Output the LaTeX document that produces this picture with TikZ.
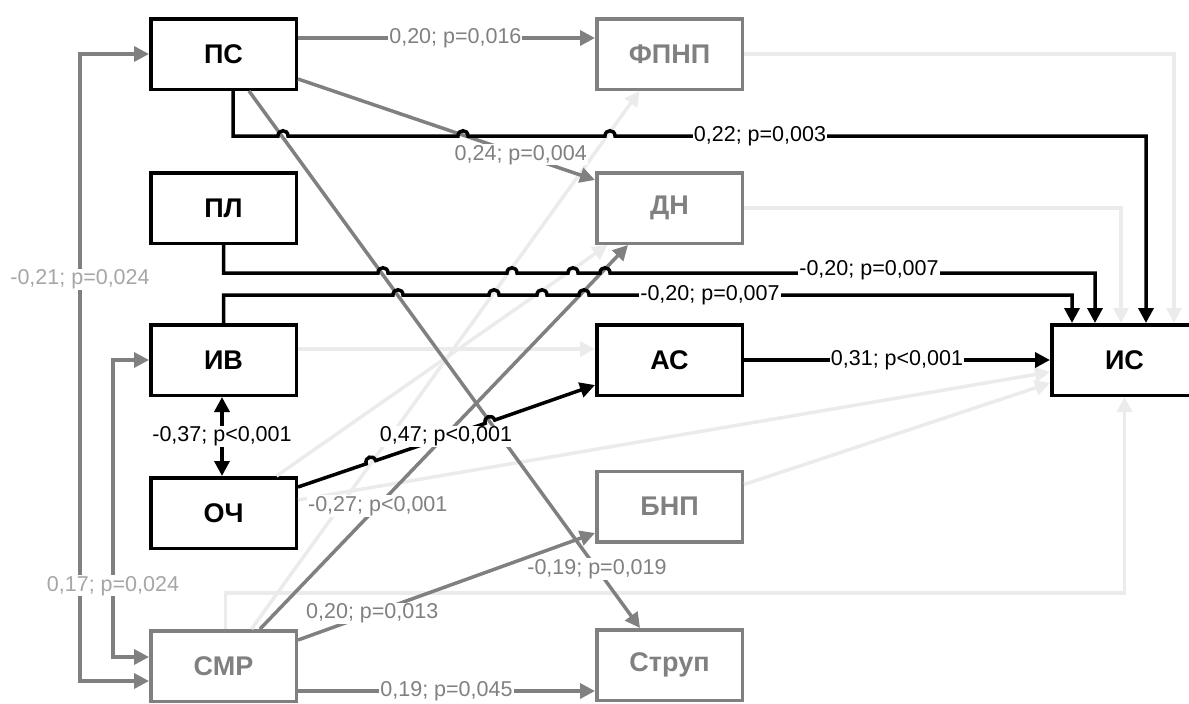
\documentclass[tikz,border=0pt]{standalone}
\usepackage{fontspec}
\setmainfont{Liberation Sans}
\usetikzlibrary{arrows.meta}
\definecolor{midgray}{HTML}{808080}
\definecolor{lightline}{HTML}{EBEBEB}
\definecolor{lighttext}{HTML}{A6A6A6}
\newcommand{\jump}[2]{-- ({#1-5},#2) .. controls +(0,-7) and +(0,-7) .. ({#1+5},#2)}

\begin{document}
\begin{tikzpicture}[x=1pt,y=-1pt,
		>={Triangle[length=15pt,width=15pt]},
		box/.style={draw,line width=3.5pt,minimum width=145.5pt,minimum height=70.5pt,inner sep=0pt,font=\bfseries\fontsize{27}{27}\selectfont},
		gbox/.style={box,draw=midgray,text=midgray},
		lbl/.style={fill=white,inner sep=1pt,font=\fontsize{21.5}{21.5}\selectfont},
		blk/.style={line width=3.5pt,->},
		gry/.style={blk,draw=midgray},
		lgt/.style={blk,draw=lightline}]
		\useasboundingbox (0,0) rectangle (1189,704);
		\clip (0,0) rectangle (1189,704);
		% boxes
		\node[box] (ps) at (223.5,54) {ПС};
		\node[box] (pl) at (223.5,208) {ПЛ};
		\node[box] (iv) at (223.5,360) {ИВ};
		\node[box] (och) at (223.5,513) {ОЧ};
		\node[gbox] (smr) at (223.5,666) {СМР};
		\node[gbox] (fpnp) at (669.5,54) {ФПНП};
		\node[gbox] (dn) at (669.5,208) {ДН};
		\node[box] (as) at (669.5,360) {АС};
		\node[gbox] (bnp) at (669.5,506.5) {БНП};
		\node[gbox] (strup) at (669.5,665) {Струп};
		\node[box] (is) at (1124.5,360) {ИС};
		% weak paths
		\draw[lgt] (fpnp.east) -| ([xshift=49.5pt]is.north);
		\draw[lgt] (dn.east) -| ([xshift=-3.5pt]is.north);
		\draw[lgt] ([yshift=11pt]iv.east) -- ([yshift=11pt]as.west);
		\draw[lgt] ([yshift=22pt]bnp.east) -- ([yshift=-23pt]is.west);
		\draw[lgt] ([yshift=13pt]och.east) -- ([yshift=-12pt]is.west);
		\draw[lgt] ([xshift=2pt]smr.north) -- ++(0,-36) -| (is.south);
		\draw[lgt] ([xshift=28pt]smr.north) -- ([xshift=-30pt]fpnp.south);
		\draw[lgt] ([xshift=53pt]och.north) -- ([xshift=-62pt]dn.south);
		% gray paths
		\draw[gry] ([yshift=16pt]ps.east) -- node[lbl,text=midgray,pos=0.53] {0,20; p=0,016} ([yshift=16pt]fpnp.west);
		\draw[gry] ([yshift=-25pt]ps.east) -- node[lbl,text=midgray,pos=0.75] {0,24; p=0,004} ([yshift=28pt]dn.west);
		\draw[gry] ([xshift=25.5pt]ps.south) -- node[lbl,text=midgray,pos=0.89] {-0,19; p=0,019} ([xshift=-29.5pt]strup.north);
		\draw[gry] ([xshift=36.5pt]smr.north) -- node[lbl,text=midgray,pos=0.32] {-0,27; p<0,001} ([xshift=-41.5pt]dn.south);
		\draw[gry] ([yshift=26pt]smr.east) -- node[lbl,text=midgray,pos=0.25] {0,20; p=0,013} ([yshift=-26.5pt]bnp.west);
		\draw[gry] ([yshift=-25pt]smr.east) -- node[lbl,text=midgray] {0,19; p=0,045} ([yshift=-26pt]strup.west);
		\draw[gry,<->] (ps.west) -- (80,54) |- node[lbl,text=lighttext,pos=0.18] {-0,21; p=0,024} ([yshift=-15pt]smr.west);
		\draw[gry,<->] (iv.west) -- (113,360) |- node[lbl,text=lighttext,pos=0.38] {0,17; p=0,024} ([yshift=9pt]smr.west);
		% black paths
		\draw[blk] ([xshift=9.5pt]ps.south) |- (278,136) \jump{283}{136} \jump{463}{136} \jump{610}{136}
			-- (760,136) node[lbl] {0,22; p=0,003} -| ([xshift=21.5pt]is.north);
		\draw[blk] (pl.south) |- (378,273) \jump{383}{273} \jump{512}{273} \jump{573}{273} \jump{605}{273}
			-- (869,273) node[lbl,yshift=3pt] {-0,20; p=0,007} -| ([xshift=-29.5pt]is.north);
		\draw[blk] (iv.north) |- (393,295) \jump{398}{295} \jump{494}{295} \jump{542}{295} \jump{584}{295}
			-- (710,295) node[lbl] {-0,20; p=0,007} -| ([xshift=-52.5pt]is.north);
		\draw[blk] (as) -- node[lbl] {0,31; p<0,001} (is);
		\draw[blk,<->] ([xshift=-1.5pt]iv.south) -- node[lbl] {-0,37; p<0,001} ([xshift=-1.5pt]och.north);
		\draw[blk] ([yshift=26pt]och.east) -- (366.3,463.8) .. controls +(-2.25,-6.63) and +(-2.25,-6.63) .. (375.7,460.6)
			-- (446,436.7) node[lbl] {0,47; p<0,001}
			-- (485.3,423.3) .. controls +(-2.25,-6.63) and +(-2.25,-6.63) .. (494.7,420.1) -- ([yshift=-25pt]as.west);
	\end{tikzpicture}
\end{document}
